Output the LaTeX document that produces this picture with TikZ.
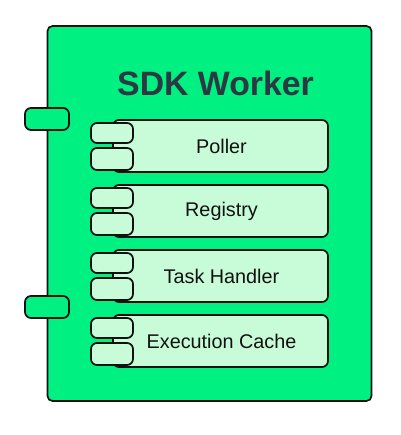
\documentclass[tikz,border=0pt]{standalone}
\usepackage{fontspec}
\setmainfont{Liberation Sans}
\definecolor{outerg}{HTML}{00F082}
\definecolor{innerg}{HTML}{C8FCD8}
\definecolor{titlec}{HTML}{2B3A42}
\definecolor{edge}{HTML}{111111}
\tikzset{
  box/.style={draw=edge, line width=1.7pt, rounded corners=5pt},
  outerport/.style={box, fill=outerg, rounded corners=6pt},
  innerbody/.style={box, fill=innerg, rounded corners=6pt},
  innerport/.style={box, fill=innerg, rounded corners=6pt},
  lbl/.style={font=\fontsize{19.8}{21}\selectfont, text=edge},
}
\begin{document}
\begin{tikzpicture}[x=1pt,y=-1pt]
\useasboundingbox (0,0) rectangle (400,435);
% outer component
\draw[box, fill=outerg] (47.5,26) rectangle (371.5,401);
\node[font=\fontsize{33.8}{36}\selectfont\bfseries, text=titlec] (title) at (215.5,83) {SDK Worker};
% outer ports
\draw[outerport] (25,108) rectangle (69,130);
\draw[outerport] (25,296) rectangle (69,318);
% inner components
\foreach \t/\name/\txt in {120/poller/Poller,185/registry/Registry,250/task/Task Handler,315/cache/Execution Cache}{
  \draw[innerbody] (113,\t) rectangle (328,\t+52);
  \draw[innerport] (91,\t+3) rectangle (133,\t+23);
  \draw[innerport] (91,\t+28) rectangle (133,\t+50);
  \node[lbl] (\name) at (221.5,\t+26.5) {\txt};
}
\end{tikzpicture}
\end{document}
